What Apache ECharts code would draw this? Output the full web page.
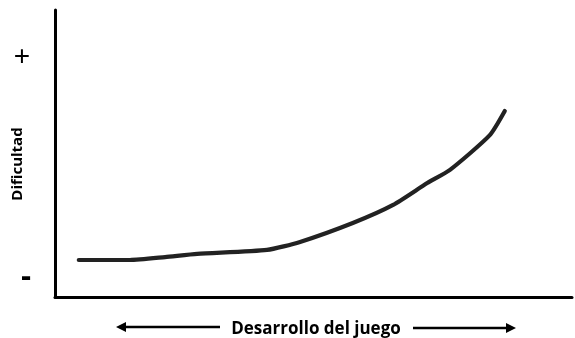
<!DOCTYPE html>
<html>
<head>
<meta charset="utf-8">
<script src="https://cdn.jsdelivr.net/npm/echarts@6/dist/echarts.min.js"></script>
<style>html,body{margin:0;padding:0;background:#fff}#c{width:575px;height:338px}</style>
</head>
<body>
<div id="c"></div>
<script>
// Progress of the game (0-100) and difficulty (0-100)
var progress = [4.6, 14.5, 21.3, 27.5, 41.0, 47.4, 57.6, 65.4, 72.0, 76.4, 84.1, 87.0];
var difficulty = [12.9, 12.9, 13.9, 15.0, 16.4, 19.2, 25.8, 32.1, 39.7, 44.3, 56.4, 64.8];
var yTickLabels = ['-', '+'];
var xTitle = 'Desarrollo del juego';
var yTitle = 'Dificultad';

var chart = echarts.init(document.getElementById('c'));
var font = '"Open Sans", "Liberation Sans", sans-serif';
chart.setOption({
  animation: false,
  grid: {left: 55, top: 10, right: 3, bottom: 41},
  xAxis: {
    type: 'value', min: 0, max: 100,
    axisLine: {show: true, lineStyle: {color: '#000', width: 3}},
    axisTick: {show: false}, axisLabel: {show: false}, splitLine: {show: false}
  },
  yAxis: {
    type: 'value', min: 0, max: 100,
    axisLine: {show: true, lineStyle: {color: '#000', width: 3}},
    axisTick: {show: false}, axisLabel: {show: false}, splitLine: {show: false}
  },
  series: [{
    type: 'line',
    data: progress.map(function (p, i) { return [p, difficulty[i]]; }),
    smooth: 0.2,
    showSymbol: false,
    lineStyle: {color: '#222', width: 4.2, cap: 'round', join: 'round'}
  }],
  graphic: [
    {type: 'text', x: 22, y: 57, style: {text: yTickLabels[1], font: '28px "Liberation Sans", sans-serif', fill: '#000', align: 'center', verticalAlign: 'middle'}},
    {type: 'text', x: 26, y: 277, style: {text: yTickLabels[0], font: 'bold 32px "Liberation Sans", sans-serif', fill: '#000', align: 'center', verticalAlign: 'middle'}},
    {type: 'text', x: 18, y: 164, rotation: Math.PI / 2,
     style: {text: yTitle, font: 'bold 15px ' + font, fill: '#000', align: 'center', verticalAlign: 'middle'}},
    {type: 'text', x: 316, y: 329,
     style: {text: xTitle, font: 'bold 17px ' + font, fill: '#000', align: 'center', verticalAlign: 'middle'}},
    {type: 'line', shape: {x1: 122, y1: 327, x2: 220, y2: 327}, style: {stroke: '#000', lineWidth: 2.5}},
    {type: 'polygon', shape: {points: [[116, 327], [126, 322], [126, 332]]}, style: {fill: '#000'}},
    {type: 'line', shape: {x1: 413, y1: 328, x2: 508, y2: 328}, style: {stroke: '#000', lineWidth: 2.5}},
    {type: 'polygon', shape: {points: [[516, 328], [506, 323], [506, 333]]}, style: {fill: '#000'}}
  ]
});
</script>
</body>
</html>
